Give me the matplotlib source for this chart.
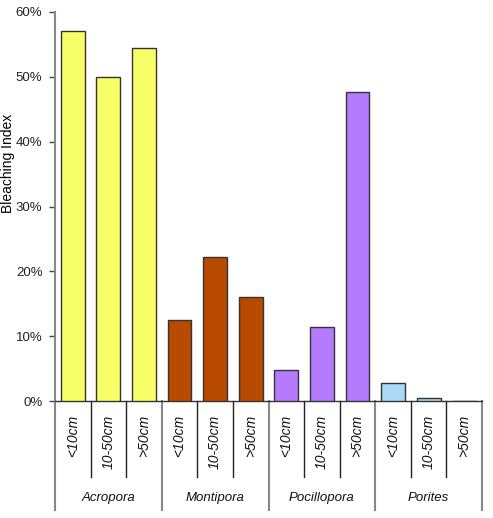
import matplotlib
matplotlib.use("Agg")
import matplotlib.pyplot as plt
import matplotlib.transforms as mtrans
from matplotlib.ticker import PercentFormatter

plt.rcParams['font.family'] = ['Liberation Sans Narrow', 'Liberation Sans', 'DejaVu Sans']

genera = ["Acropora", "Montipora", "Pocillopora", "Porites"]
sizes = ["<10cm", "10-50cm", ">50cm"]
acropora = [57.1, 50.0, 54.5]
montipora = [12.5, 22.2, 16.0]
pocillopora = [4.8, 11.4, 47.7]
porites = [2.8, 0.5, 0.0]
genus_colors = ["#F8FF66", "#B84A00", "#B57BFF", "#ABD8F5"]

values = acropora + montipora + pocillopora + porites
colors = [c for c in genus_colors for _ in sizes]
xs = list(range(len(values)))

fig = plt.figure(figsize=(4.93, 5.18), dpi=100)
ax = fig.add_axes([55 / 493, 117 / 518, 427 / 493, 389 / 518])

ax.bar(xs, values, width=0.67, color=colors, edgecolor="#333333", linewidth=1.0, zorder=3)

ax.set_xlim(-0.5, len(values) - 0.5)
ax.set_ylim(0, 60)
ax.set_yticks(range(0, 61, 10))
ax.yaxis.set_major_formatter(PercentFormatter(decimals=0))
ax.tick_params(axis="y", direction="out", length=4, width=1, colors="#444444",
               labelcolor="#222222", labelsize=9.5, pad=5)
ax.set_xticks([])
for side in ["top", "right"]:
    ax.spines[side].set_visible(False)
ax.spines["left"].set_color("#888888")
ax.spines["left"].set_linewidth(1.5)
ax.spines["bottom"].set_color("#333333")
ax.spines["bottom"].set_linewidth(1.0)

fig.text(8 / 493, 1 - 163 / 518, "Bleaching Index", rotation=90, ha="center",
         va="center", fontsize=10, family=['Liberation Sans', 'DejaVu Sans'])

# category axis drawn below the plot
trans = mtrans.blended_transform_factory(ax.transData, ax.transAxes)
inner_bottom = -76 / 389
outer_bottom = -109 / 389
n = len(sizes)
for g in range(len(genera) + 1):
    x = g * n - 0.5
    ax.plot([x, x], [0, outer_bottom], transform=trans, clip_on=False,
            color="#888888", lw=1.5)
for g, name in enumerate(genera):
    for k in range(1, n):
        x = g * n + k - 0.5
        ax.plot([x, x], [0, inner_bottom], transform=trans, clip_on=False,
                color="#222222", lw=1.0)
    for k, s in enumerate(sizes):
        ax.text(g * n + k, -14 / 389, s, transform=trans, rotation=90,
                ha="center", va="top", fontsize=10, style="italic", color="#111111")
    ax.text(g * n + 1, -97 / 389, name, transform=trans, ha="center", va="center",
            fontsize=9.5, style="italic", color="#111111")

fig.savefig("out.png", dpi=100)
